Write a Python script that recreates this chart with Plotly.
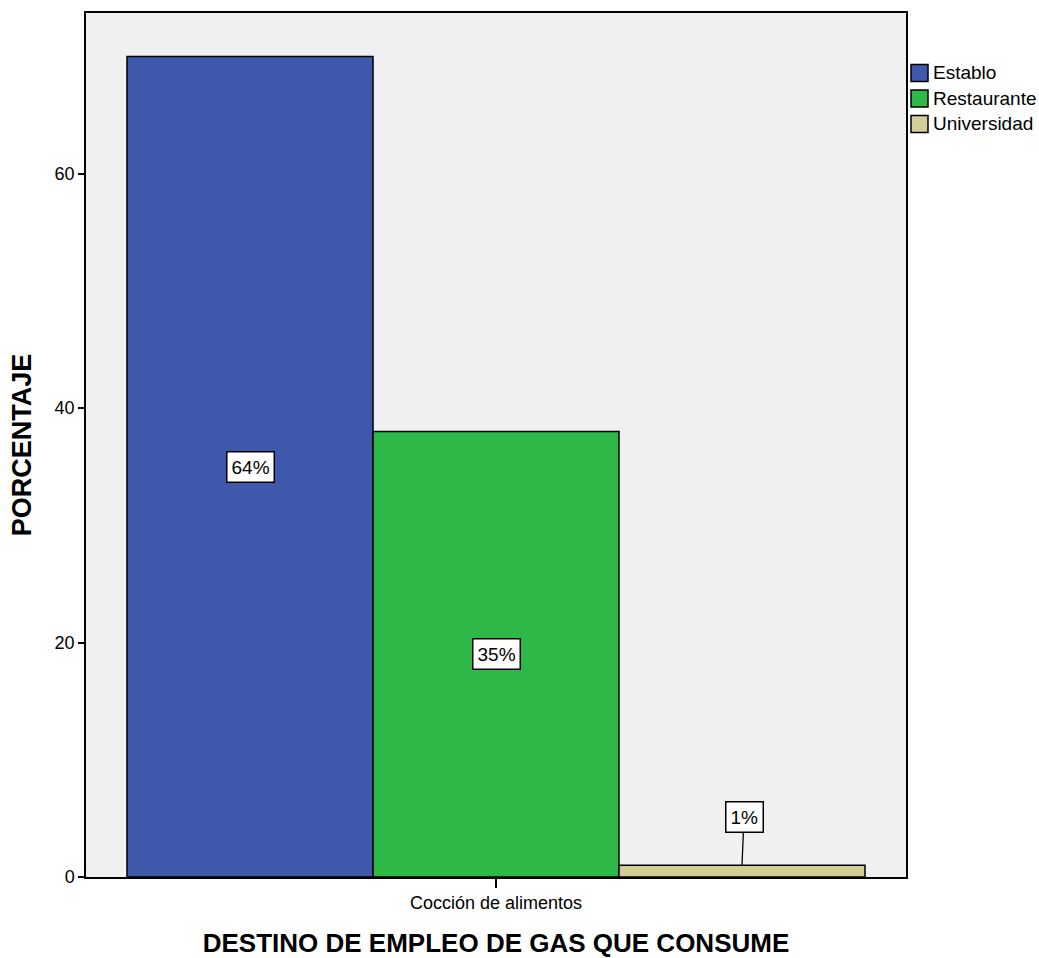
import plotly.graph_objects as go

# Frequencies by establishment type for one use category
category = "Cocción de alimentos"
series_names = ["Establo", "Restaurante", "Universidad"]
values = [70, 38, 1]
colors = ["#3E58AC", "#2EB848", "#D3CE97"]

y_ticks = [0, 20, 40, 60]
total = sum(values)
labels = [f"{round(v / total * 100)}%" for v in values]

W, H = 1039, 958
M = dict(l=86, r=133, t=13, b=81)
PW = W - M["l"] - M["r"]
PH = H - M["t"] - M["b"]

bargap = 0.1
n = len(values)
slot = (1 - bargap) / n
centers = [-(1 - bargap) / 2 + slot * (i + 0.5) for i in range(n)]

FONT = "Liberation Sans, Arial, sans-serif"

fig = go.Figure()
for name, v, c in zip(series_names, values, colors):
    fig.add_trace(go.Bar(
        x=[0], y=[v], name=name, showlegend=False,
        marker=dict(color=c, line=dict(color="black", width=1.5)),
    ))

# Boxed percentage labels
for i, (v, lab) in enumerate(zip(values, labels)):
    small = v < 5
    fig.add_annotation(
        x=centers[i], y=v if small else v / 2, text=lab,
        showarrow=small, arrowhead=0, arrowwidth=1.3, arrowcolor="black",
        ax=2, ay=-48,
        bgcolor="white", bordercolor="black", borderwidth=1.5, borderpad=4,
        font=dict(family=FONT, size=19, color="black"),
    )

# Legend drawn with square swatches to the right of the plot area
def px_x(p):
    return (p - M["l"]) / PW

def px_y(p):
    return (H - M["b"] - p) / PH

sw = 17
for i, (name, c) in enumerate(zip(series_names, colors)):
    cy = 73 + i * 25.5
    fig.add_shape(
        type="rect", xref="paper", yref="paper",
        x0=px_x(911), x1=px_x(911 + sw), y0=px_y(cy + sw / 2), y1=px_y(cy - sw / 2),
        fillcolor=c, line=dict(color="black", width=1.5),
    )
    fig.add_annotation(
        xref="paper", yref="paper", x=px_x(931), y=px_y(cy),
        xanchor="left", yanchor="middle", showarrow=False, text=name,
        font=dict(family=FONT, size=19, color="black"),
    )

fig.update_layout(
    width=W, height=H,
    barmode="group", bargap=bargap,
    paper_bgcolor="white", plot_bgcolor="#F0F0F0",
    margin=dict(**M, autoexpand=False),
    font=dict(family=FONT, color="black"),
    xaxis=dict(
        range=[-0.5, 0.5], tickvals=[0], ticktext=[category],
        ticks="outside", ticklen=9, tickwidth=1.5, tickcolor="black",
        tickfont=dict(size=18), showgrid=False, zeroline=False,
        showline=True, linecolor="black", linewidth=1.5, mirror=True,
        title=dict(text="<b>DESTINO DE EMPLEO DE GAS QUE CONSUME</b>",
                   font=dict(size=26), standoff=22),
    ),
    yaxis=dict(
        range=[0, 73.7], tickvals=y_ticks,
        ticks="outside", ticklen=6, tickwidth=2, tickcolor="black",
        tickfont=dict(size=18), showgrid=False, zeroline=False,
        showline=True, linecolor="black", linewidth=1.5, mirror=True,
        title=dict(text="<b>PORCENTAJE</b>", font=dict(size=27), standoff=15),
    ),
)

fig.write_html("out.html")
